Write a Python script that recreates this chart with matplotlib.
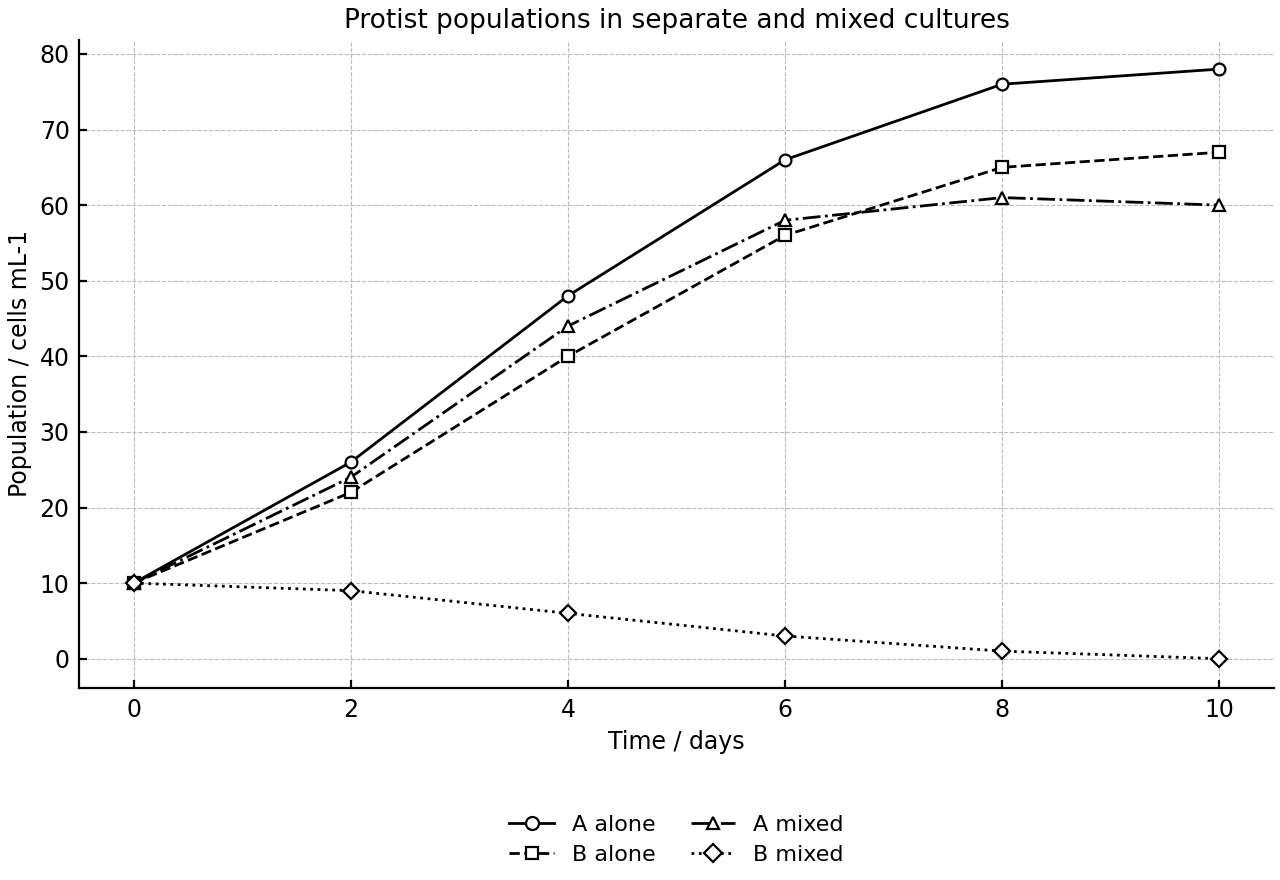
import matplotlib
matplotlib.use("Agg")
import matplotlib.pyplot as plt

days = [0, 2, 4, 6, 8, 10]
a_alone = [10, 26, 48, 66, 76, 78]
b_alone = [10, 22, 40, 56, 65, 67]
a_mixed = [10, 24, 44, 58, 61, 60]
b_mixed = [10, 9, 6, 3, 1, 0]

fig = plt.figure(figsize=(12.8, 8.8), dpi=100)
ax = fig.add_axes([0.062, 0.218, 0.933, 0.737])

style = dict(color="black", lw=2, ms=8.5, mfc="white", mew=1.6)
ax.plot(days, a_alone, "-", marker="o", label="A alone", **style)
ax.plot(days, b_alone, "--", marker="s", label="B alone", **style)
ax.plot(days, a_mixed, "-.", marker="^", label="A mixed", **style)
ax.plot(days, b_mixed, ":", marker="D", label="B mixed", **style)

ax.set_title("Protist populations in separate and mixed cultures", fontsize=19, pad=8)
ax.set_xlabel("Time / days", fontsize=17, labelpad=6)
ax.set_ylabel("Population / cells mL-1", fontsize=17, labelpad=5)
ax.set_xticks(days)
ax.tick_params(direction="in", labelsize=17, width=1.6, length=6, pad=7)
ax.grid(True, ls="--", color="#bbbbbb", lw=0.8)
ax.set_axisbelow(True)
for s in ["top", "right"]:
    ax.spines[s].set_visible(False)
for s in ["left", "bottom"]:
    ax.spines[s].set_linewidth(1.6)

ax.legend(loc="upper center", bbox_to_anchor=(0.5, -0.165), ncol=2, frameon=False,
          fontsize=16, handlelength=2.0, columnspacing=1.6, labelspacing=0.45,
          markerscale=1.1)

fig.savefig("out.png")
